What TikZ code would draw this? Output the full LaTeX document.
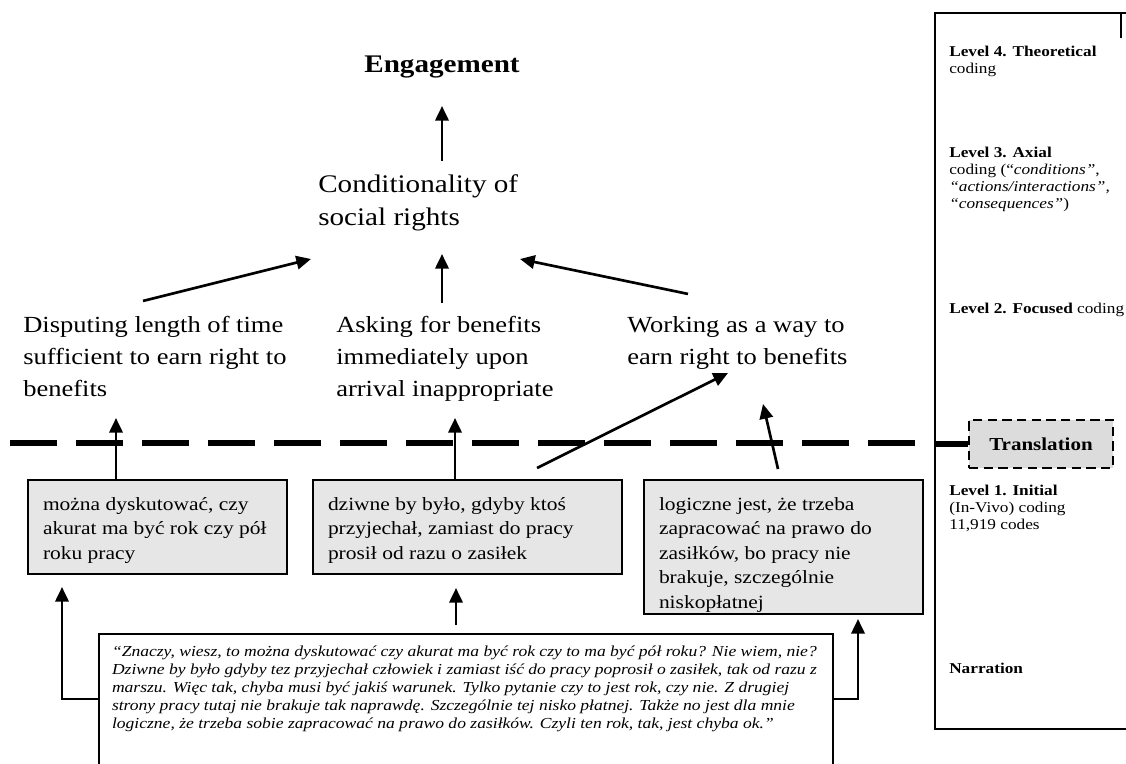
\documentclass[tikz,border=0pt]{standalone}
\usepackage{fontspec}
\setmainfont{Liberation Serif}[FakeStretch=1.15]
\usetikzlibrary{arrows.meta,calc}
\definecolor{boxgray}{HTML}{E6E6E6}
\definecolor{trgray}{HTML}{DCDCDC}
\newcommand\st{\rule{0pt}{1em}}
\newcommand\tline[1]{\hbox to \hsize{#1\hss}}
\newcommand\boxtext[4]{\vbox to #2{\hsize=#1\relax\vskip #3\relax #4\vss}}
\begin{document}
\begin{tikzpicture}[x=0.75pt,y=-0.75pt,
  arr/.style={line width=2pt,-{Triangle[length=11pt,width=10pt]}},
  tx/.style={anchor=north west,inner sep=0pt,align=left},
  lvl/.style={tx,yshift=11.25pt,font=\fontsize{11.25}{12.75}\selectfont},
  lvtwo/.style={tx,yshift=17.3pt,font=\fontsize{17.3}{24}\selectfont},
  box/.style={draw,line width=1.5pt,fill=boxgray,anchor=north west,inner xsep=11.25pt,inner ysep=0pt,font=\fontsize{14}{18.4}\selectfont},
  quote/.style={draw,line width=1.5pt,fill=white,anchor=north west,inner xsep=9.75pt,inner ysep=0pt,font=\fontsize{11.45}{13.5}\selectfont\itshape},
]
\useasboundingbox (0,0) rectangle (1126,763);

% right panel
\node[draw,line width=1.5pt,anchor=north west,inner sep=0pt,minimum width=160pt,minimum height=537pt] (panel) at (934,12) {};
\coordinate (tick) at (1121,38);
\draw[line width=1.5pt] (panel.north west -| tick) -- (tick);
\node[lvl] (l4) at (949,56) {\st\textbf{Level 4. Theoretical}\\coding};
\node[lvl] (l3) at (949,157) {\st\textbf{Level 3. Axial}\\coding (“\textit{conditions”},\\\textit{“actions/interactions”,}\\\textit{“consequences”})};
\node[lvl] (l2) at (949,313) {\st\textbf{Level 2. Focused} coding};
\node[lvl] (l1) at (949,495) {\st\textbf{Level 1. Initial}\\(In-Vivo) coding\\11,919 codes};
\node[lvl] (nar) at (949,673) {\st\textbf{Narration}};
\node[draw,line width=1.5pt,dash pattern=on 7pt off 4pt,fill=trgray,minimum width=108pt,minimum height=36pt,inner sep=0pt,font=\fontsize{13.7}{16}\selectfont\bfseries] (tr) at (1041,444) {Translation};

% separator
\coordinate (sepL) at (10,443);
\coordinate (sepR) at (915,443);
\draw[line width=4.5pt,dash pattern=on 35.25pt off 14.25pt] (sepL) -- (sepR);
\draw[line width=4.5pt] (tr.west -| panel.west) -- (tr.west);

% top
\node[anchor=base,inner sep=0pt,font=\fontsize{19}{23}\selectfont\bfseries] (eng) at (442,73) {Engagement};
\node[tx,yshift=19pt,font=\fontsize{19}{24.75}\selectfont] (cond) at (318,192) {\st Conditionality of\\social rights};

% level 2
\node[lvtwo] (dis) at (23,332) {\st Disputing length of time\\sufficient to earn right to\\benefits};
\node[lvtwo] (ask) at (336,332) {\st Asking for benefits\\immediately upon\\arrival inappropriate};
\node[lvtwo] (work) at (627,332) {\st Working as a way to\\earn right to benefits};

% level 1 boxes
\node[box] (b1) at (27,479) {\boxtext{171.75pt}{70.5pt}{8.5pt}{\tline{\st można dyskutować, czy}\tline{akurat ma być rok czy pół}\tline{roku pracy}}};
\node[box] (b2) at (312,479) {\boxtext{209.25pt}{70.5pt}{8.5pt}{\tline{\st dziwne by było, gdyby ktoś}\tline{przyjechał, zamiast do pracy}\tline{prosił od razu o zasiłek}}};
\node[box] (b3) at (643,479) {\boxtext{186.75pt}{100.5pt}{8.5pt}{\tline{\st logiczne jest, że trzeba}\tline{zapracować na prawo do}\tline{zasiłków, bo pracy nie}\tline{brakuje, szczególnie}\tline{niskopłatnej}}};

% narration quote
\node[quote] (q) at (98,633) {\boxtext{531pt}{112.5pt}{5.2pt}{%
\tline{\st “Znaczy, wiesz, to można dyskutować czy akurat ma być rok czy to ma być pół roku? Nie wiem, nie?}%
\tline{Dziwne by było gdyby tez przyjechał człowiek i zamiast iść do pracy poprosił o zasiłek, tak od razu z}%
\tline{marszu. Więc tak, chyba musi być jakiś warunek. Tylko pytanie czy to jest rok, czy nie. Z drugiej}%
\tline{strony pracy tutaj nie brakuje tak naprawdę. Szczególnie tej nisko płatnej. Także no jest dla mnie}%
\tline{logiczne, że trzeba sobie zapracować na prawo do zasiłków. Czyli ten rok, tak, jest chyba ok.”}}};

% arrow targets
\coordinate (tEng) at (442,106);
\coordinate (tCondL) at (311,259);
\coordinate (tCondC) at (442,254);
\coordinate (tCondR) at (520,259);
\coordinate (tDis) at (116,418);
\coordinate (tAsk) at (455,418);
\coordinate (tWork1) at (728,373);
\coordinate (tWork2) at (763,404);

% arrows upper
\draw[arr] ($(cond.north west)+(124,-6)$) -- (tEng);
\draw[arr] ($(dis.north west)+(120,-8)$) -- (tCondL);
\draw[arr] ($(ask.north west)+(106,-6)$) -- (tCondC);
\draw[arr] ($(work.north west)+(61,-15)$) -- (tCondR);

% arrows from level-1 boxes
\draw[arr] ($(b1.north west)+(89,0)$) -- (tDis);
\draw[arr] ($(b2.north west)+(143,0)$) -- (tAsk);
\draw[arr] ($(b2.north west)+(225,-11)$) -- (tWork1);
\draw[arr] ($(b3.north west)+(135,-10)$) -- (tWork2);

% arrows from narration
\draw[arr] ($(q.north west)+(0,66)$) -| ($(b1.south west)+(35,12)$);
\draw[arr] ($(q.north west)+(358,-8)$) -- ($(b2.south west)+(144,13)$);
\draw[arr] ($(q.north east)+(0,66)$) -| ($(b3.south west)+(215,4)$);
\end{tikzpicture}
\end{document}
